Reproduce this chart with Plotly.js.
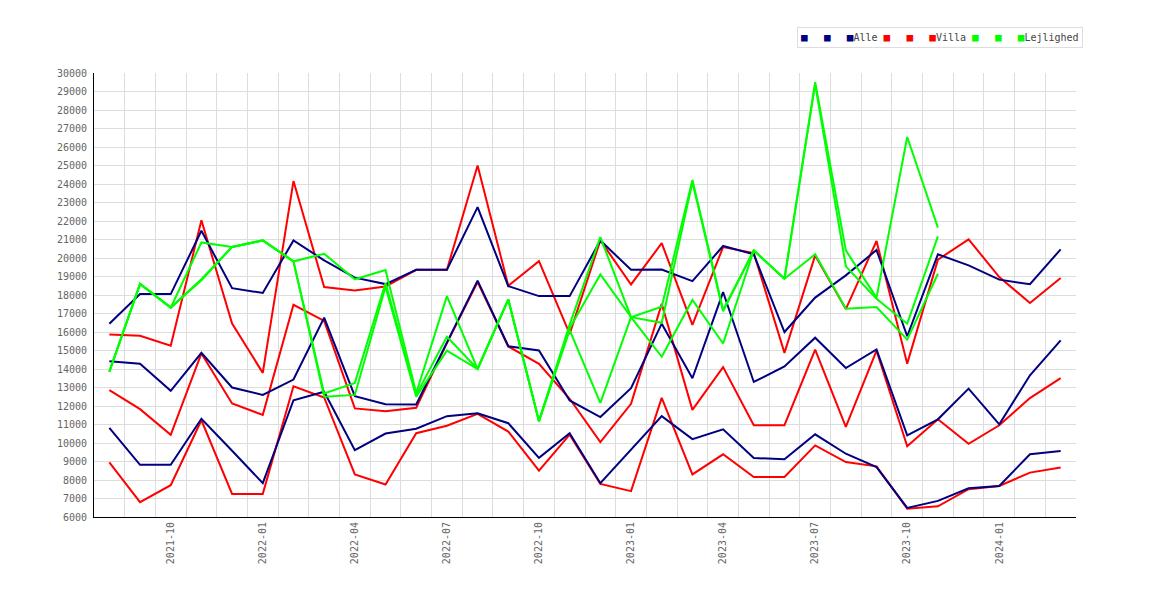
<!DOCTYPE html>
<html>
<head>
<meta charset="utf-8">
<script src="https://cdn.plot.ly/plotly-3.0.1.min.js"></script>
<style>
  body { margin: 0; background: #fff; }
  #chart { width: 1170px; height: 600px; }
</style>
</head>
<body>
<div id="chart"></div>
<script>
// Monthly values, 2021-08 .. 2024-03
var months = ['2021-08','2021-09','2021-10','2021-11','2021-12','2022-01','2022-02','2022-03',
              '2022-04','2022-05','2022-06','2022-07','2022-08','2022-09','2022-10','2022-11',
              '2022-12','2023-01','2023-02','2023-03','2023-04','2023-05','2023-06','2023-07',
              '2023-08','2023-09','2023-10','2023-11','2023-12','2024-01','2024-02','2024-03'];

// Alle (navy) - upper, middle, lower line
var alle_high = [16450,18050,18050,21470,18370,18110,20950,19870,18940,18590,19360,19360,22750,18480,17940,17940,
                 20950,19360,19380,18750,20650,20200,16000,17860,19060,20430,15770,20200,19600,18830,18580,20470];
var alle_mid  = [14420,14280,12820,14870,13000,12600,13430,16780,12530,12100,12080,15430,18780,15230,15000,12300,
                 11400,12960,16450,13500,18160,13300,14140,15690,14050,15060,10410,11280,12940,11010,13660,15550];
var alle_low  = [10820,8820,8820,11310,9580,7830,12310,12770,9610,10510,10770,11450,11610,11070,9200,10530,
                 7830,9650,11450,10210,10740,9190,9120,10470,9420,8700,6490,6870,7550,7680,9390,9570];

// Villa (red)
var villa_high = [15860,15800,15260,22040,16460,13790,24160,18430,18250,18460,19360,19360,25000,18500,19830,15900,
                  20950,18570,20800,16380,20590,20270,14870,20140,17240,20920,14290,19910,21010,18970,17570,18920];
var villa_mid  = [12860,11830,10440,14840,12140,11520,17470,16600,11870,11720,11900,15400,18700,15220,14280,12390,
                  10050,12120,17520,11790,14100,10960,10960,15050,10870,14990,9820,11280,9960,10960,12430,13510];
var villa_low  = [8950,6800,7720,11230,7250,7250,13070,12460,8300,7760,10530,10930,11580,10620,8510,10450,
                  7790,7400,12440,8300,9390,8160,8160,9870,8970,8740,6450,6580,7500,7680,8400,8670];

// Lejlighed (green) - no values after 2023-11
var lejl_high = [13850,18600,17320,20840,20600,20950,19820,20230,18850,19350,12700,17940,14000,17760,11180,16400,
                 21130,16800,17370,24220,17190,20410,18880,29510,20410,17860,26540,21640,null,null,null,null];
var lejl_mid  = [13850,18600,17320,18850,20600,20950,19820,12680,13250,18650,12600,15740,14000,17760,11180,16200,
                 19110,16800,16500,24100,17120,20410,18880,29400,19550,17800,16450,21170,null,null,null,null];
var lejl_low  = [13850,18600,17320,18800,20600,20950,19820,12500,12600,18450,12500,14990,14000,17760,11180,16100,
                 12170,16800,14660,17730,15380,20410,18880,20200,17260,17350,15590,19150,null,null,null,null];

var tick_months = ['2021-10','2022-01','2022-04','2022-07','2022-10','2023-01','2023-04','2023-07','2023-10','2024-01'];
var group_names = ['Alle', 'Villa', 'Lejlighed'];

var NAVY = '#000080', RED = '#ff0000', GREEN = '#00ff00';
var group_colors = [NAVY, RED, GREEN];
var xs = months.map(function(m, i){ return i; });

function line(name, y, color){
    return {
        x: xs, y: y, type: 'scatter', mode: 'lines', name: name,
        line: {color: color, width: 2},
        showlegend: false, hoverinfo: 'skip'
    };
}

// red first, navy on top of it, green last (as in the original)
var data = [
    line('Villa', villa_high, RED), line('Villa', villa_mid, RED), line('Villa', villa_low, RED),
    line('Alle', alle_high, NAVY), line('Alle', alle_mid, NAVY), line('Alle', alle_low, NAVY),
    line('Lejlighed', lejl_high, GREEN), line('Lejlighed', lejl_mid, GREEN), line('Lejlighed', lejl_low, GREEN)
];

// legend like the original: three squares per group (one per line), name after the last one
var sp = '<span style="font-size:9px">\u00a0\u00a0\u00a0</span>';
var legend_text = group_names.map(function(n, k){
    var sq = '<span style="color:' + group_colors[k] + ';font-size:11px">\u25A0</span>';
    return sq + sp + sq + sp + sq + n;
}).join('\u00a0');

var font = {family: 'DejaVu Sans Mono, monospace', size: 10, color: '#666'};

var layout = {
    width: 1170, height: 600,
    margin: {l: 94, r: 94, t: 73, b: 83},
    paper_bgcolor: '#fff', plot_bgcolor: '#fff',
    font: font,
    showlegend: false,
    annotations: [{
        xref: 'paper', yref: 'paper', x: 0.716, y: 1.081,
        xanchor: 'left', yanchor: 'middle', showarrow: false,
        text: legend_text, align: 'left',
        font: {family: 'DejaVu Sans Mono, monospace', size: 10, color: '#444'},
        bordercolor: '#dddddd', borderwidth: 1, borderpad: 3, bgcolor: '#fff'
    }],
    xaxis: {
        range: [-0.5, 31.5],
        tickmode: 'array',
        tickvals: tick_months.map(function(m){ return months.indexOf(m); }),
        ticktext: tick_months,
        tickangle: -90,
        showgrid: false,
        zeroline: false,
        showline: true, linecolor: '#000', linewidth: 1,
        ticks: '',
        minor: {tick0: 0.5, dtick: 1, showgrid: true, gridcolor: '#dddddd', gridwidth: 1, ticks: ''},
        tickfont: font
    },
    yaxis: {
        range: [6000, 30000],
        dtick: 1000,
        tick0: 6000,
        tickformat: 'd',
        showgrid: true, gridcolor: '#dddddd', gridwidth: 1,
        zeroline: false,
        showline: true, linecolor: '#000', linewidth: 1,
        ticks: '',
        ticklabelstandoff: 4,
        tickfont: font
    }
};

Plotly.newPlot('chart', data, layout, {displayModeBar: false, staticPlot: true});
</script>
</body>
</html>
